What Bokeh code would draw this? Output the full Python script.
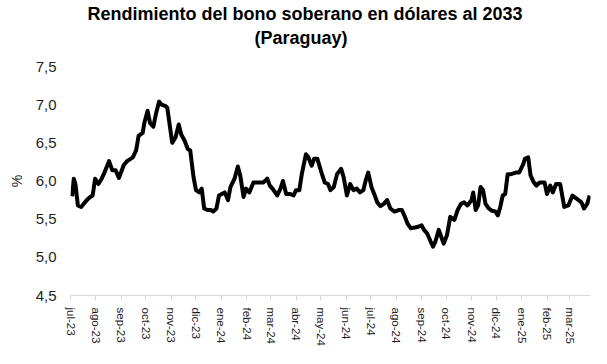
import pandas as pd
from bokeh.plotting import figure
from bokeh.models import FixedTicker, CustomJSTickFormatter, Range1d, Title
from bokeh.embed import file_html
from bokeh.resources import INLINE

# ---- data ----
dates = [
    "2023-07-03", "2023-07-05", "2023-07-07", "2023-07-10", "2023-07-14", "2023-07-17",
    "2023-07-21", "2023-07-25", "2023-07-28", "2023-07-31", "2023-08-04", "2023-08-08",
    "2023-08-11", "2023-08-14", "2023-08-17", "2023-08-21", "2023-08-25", "2023-08-29",
    "2023-09-04", "2023-09-08", "2023-09-15", "2023-09-19", "2023-09-22", "2023-09-27",
    "2023-09-29", "2023-10-03", "2023-10-06", "2023-10-10", "2023-10-13", "2023-10-17",
    "2023-10-20", "2023-10-25", "2023-10-27", "2023-11-02", "2023-11-06", "2023-11-10",
    "2023-11-13", "2023-11-17", "2023-11-21", "2023-11-24", "2023-11-28", "2023-12-01",
    "2023-12-05", "2023-12-08", "2023-12-11", "2023-12-15", "2023-12-19", "2023-12-22",
    "2023-12-26", "2023-12-29", "2024-01-05", "2024-01-09", "2024-01-12", "2024-01-17",
    "2024-01-21", "2024-01-24", "2024-01-28", "2024-01-31", "2024-02-04", "2024-02-09",
    "2024-02-15", "2024-02-21", "2024-02-26", "2024-02-29", "2024-03-04", "2024-03-09",
    "2024-03-13", "2024-03-16", "2024-03-20", "2024-03-25", "2024-03-29", "2024-04-01",
    "2024-04-05", "2024-04-08", "2024-04-13", "2024-04-16", "2024-04-20", "2024-04-23",
    "2024-04-27", "2024-05-02", "2024-05-06", "2024-05-10", "2024-05-13", "2024-05-17",
    "2024-05-21", "2024-05-26", "2024-05-29", "2024-06-02", "2024-06-06", "2024-06-10",
    "2024-06-14", "2024-06-18", "2024-06-22", "2024-06-25", "2024-06-28", "2024-07-02",
    "2024-07-06", "2024-07-09", "2024-07-13", "2024-07-17", "2024-07-21", "2024-07-25",
    "2024-07-30", "2024-08-04", "2024-08-08", "2024-08-11", "2024-08-15", "2024-08-19",
    "2024-08-24", "2024-08-28", "2024-09-01", "2024-09-04", "2024-09-08", "2024-09-12",
    "2024-09-15", "2024-09-18", "2024-09-22", "2024-09-25", "2024-09-28", "2024-10-02",
    "2024-10-06", "2024-10-11", "2024-10-15", "2024-10-19", "2024-10-23", "2024-10-27",
    "2024-11-01", "2024-11-03", "2024-11-06", "2024-11-09", "2024-11-12", "2024-11-15",
    "2024-11-18", "2024-11-22", "2024-11-26", "2024-11-30", "2024-12-03", "2024-12-06",
    "2024-12-09", "2024-12-12", "2024-12-15", "2024-12-19", "2024-12-25", "2024-12-29",
    "2025-01-03", "2025-01-05", "2025-01-09", "2025-01-12", "2025-01-16", "2025-01-19",
    "2025-01-23", "2025-01-29", "2025-02-01", "2025-02-05", "2025-02-08", "2025-02-12",
    "2025-02-17", "2025-02-22", "2025-02-27", "2025-03-04", "2025-03-09", "2025-03-15",
    "2025-03-18", "2025-03-22", "2025-03-25",
]
yields = [
    5.80, 6.03, 5.96, 5.68, 5.66, 5.70,
    5.75, 5.79, 5.81, 6.03, 5.96, 6.03,
    6.10, 6.18, 6.26, 6.14, 6.14, 6.04,
    6.21, 6.26, 6.31, 6.40, 6.59, 6.63,
    6.76, 6.92, 6.76, 6.71, 6.87, 7.04,
    7.00, 6.98, 6.96, 6.50, 6.57, 6.74,
    6.61, 6.53, 6.42, 6.40, 6.05, 5.88,
    5.85, 5.90, 5.64, 5.62, 5.62, 5.60,
    5.64, 5.81, 5.85, 5.75, 5.92, 6.03,
    6.19, 6.07, 5.79, 5.90, 5.85, 5.98,
    5.98, 5.98, 6.03, 5.94, 5.89, 5.81,
    5.90, 6.00, 5.83, 5.83, 5.81, 5.88,
    5.88, 6.09, 6.35, 6.31, 6.20, 6.29,
    6.29, 6.11, 5.98, 5.96, 5.88, 5.92,
    6.09, 6.16, 6.05, 5.81, 5.96, 5.88,
    5.90, 5.85, 5.88, 6.01, 6.11, 5.92,
    5.81, 5.72, 5.67, 5.70, 5.75, 5.64,
    5.60, 5.62, 5.62, 5.55, 5.44, 5.38,
    5.39, 5.40, 5.42, 5.36, 5.31, 5.21,
    5.14, 5.21, 5.36, 5.27, 5.18, 5.29,
    5.53, 5.49, 5.62, 5.70, 5.72, 5.68,
    5.75, 5.85, 5.62, 5.68, 5.92, 5.88,
    5.70, 5.64, 5.61, 5.60, 5.55, 5.66,
    5.81, 5.83, 6.09, 6.09, 6.11, 6.11,
    6.22, 6.29, 6.31, 6.07, 5.98, 5.94,
    5.98, 5.98, 5.83, 5.94, 5.85, 5.96,
    5.96, 5.66, 5.68, 5.81, 5.77, 5.72,
    5.64, 5.70, 5.81,
]
month_ticks = [
    "2023-07-01", "2023-08-01", "2023-09-01", "2023-10-01", "2023-11-01", "2023-12-01",
    "2024-01-01", "2024-02-01", "2024-03-01", "2024-04-01", "2024-05-01", "2024-06-01",
    "2024-07-01", "2024-08-01", "2024-09-01", "2024-10-01", "2024-11-01", "2024-12-01",
    "2025-01-01", "2025-02-01", "2025-03-01",
]
month_labels = [
    "jul-23", "ago-23", "sep-23", "oct-23", "nov-23", "dic-23",
    "ene-24", "feb-24", "mar-24", "abr-24", "may-24", "jun-24",
    "jul-24", "ago-24", "sep-24", "oct-24", "nov-24", "dic-24",
    "ene-25", "feb-25", "mar-25",
]
y_ticks = [4.5, 5.0, 5.5, 6.0, 6.5, 7.0, 7.5]
y_tick_labels = ["4,5", "5,0", "5,5", "6,0", "6,5", "7,0", "7,5"]
title_lines = ["Rendimiento del bono soberano en dólares al 2033", "(Paraguay)"]
y_label = "%"
x_start, x_end = "2023-07-01", "2025-03-26"

FONT = "Liberation Sans"
TXT = "#1e1e1e"

x = pd.to_datetime(dates)
tick_ms = [float(v) for v in (pd.to_datetime(month_ticks).astype("int64") // 10**6)]

LOOKUP = """
let best = 0, bd = Infinity;
for (let i = 0; i < tvals.length; i++) { const d = Math.abs(tvals[i] - tick); if (d < bd) { bd = d; best = i; } }
return tlabels[best];
"""

p = figure(width=591, height=348, x_axis_type="datetime",
           output_backend="svg", toolbar_location=None,
           x_range=Range1d(pd.Timestamp(x_start), pd.Timestamp(x_end)),
           y_range=Range1d(4.5, 7.5),
           min_border_left=70, min_border_right=1,
           min_border_top=64, min_border_bottom=53)
p.outline_line_color = None
p.xgrid.visible = False
p.ygrid.visible = False
p.background_fill_color = "white"
p.border_fill_color = "white"

p.line(x, yields, line_color="black", line_width=4, line_join="round")

# x axis
xa = p.xaxis[0]
xa.ticker = FixedTicker(ticks=tick_ms)
xa.formatter = CustomJSTickFormatter(args=dict(tvals=tick_ms, tlabels=month_labels), code=LOOKUP)
xa.major_label_orientation = "vertical"
xa.axis_line_color = "#d9d9d9"
xa.axis_line_width = 1
xa.major_tick_line_color = "#d9d9d9"
xa.major_tick_in = 0
xa.major_tick_out = 5
xa.minor_tick_line_color = None
xa.major_label_standoff = 7
xa.major_label_text_font = FONT
xa.major_label_text_font_size = "11.5px"
xa.major_label_text_color = TXT

# y axis
ya = p.yaxis[0]
ya.ticker = FixedTicker(ticks=y_ticks)
ya.formatter = CustomJSTickFormatter(args=dict(tvals=y_ticks, tlabels=y_tick_labels), code=LOOKUP)
ya.axis_line_color = None
ya.major_tick_line_color = None
ya.minor_tick_line_color = None
ya.major_tick_out = 0
ya.major_tick_in = 0
ya.major_label_standoff = 14
ya.major_label_text_font = FONT
ya.major_label_text_font_size = "15px"
ya.major_label_text_color = TXT
ya.axis_label = y_label
ya.axis_label_text_font = FONT
ya.axis_label_text_font_style = "normal"
ya.axis_label_text_font_size = "14px"
ya.axis_label_text_color = TXT
ya.axis_label_standoff = 8

# title: two lines, each placed so it is centred over the whole picture
p.title.visible = False
p.add_layout(Title(text=" ", text_font_size="2px", standoff=14), "above")  # gap under title
for txt, off in [(title_lines[1], 184), (title_lines[0], 17)]:
    p.add_layout(Title(text=txt, align="left", offset=off, standoff=2,
                       text_font=FONT, text_font_style="bold", text_font_size="18px",
                       text_color="black"), "above")

open("out.html", "w").write(file_html(p, INLINE))
